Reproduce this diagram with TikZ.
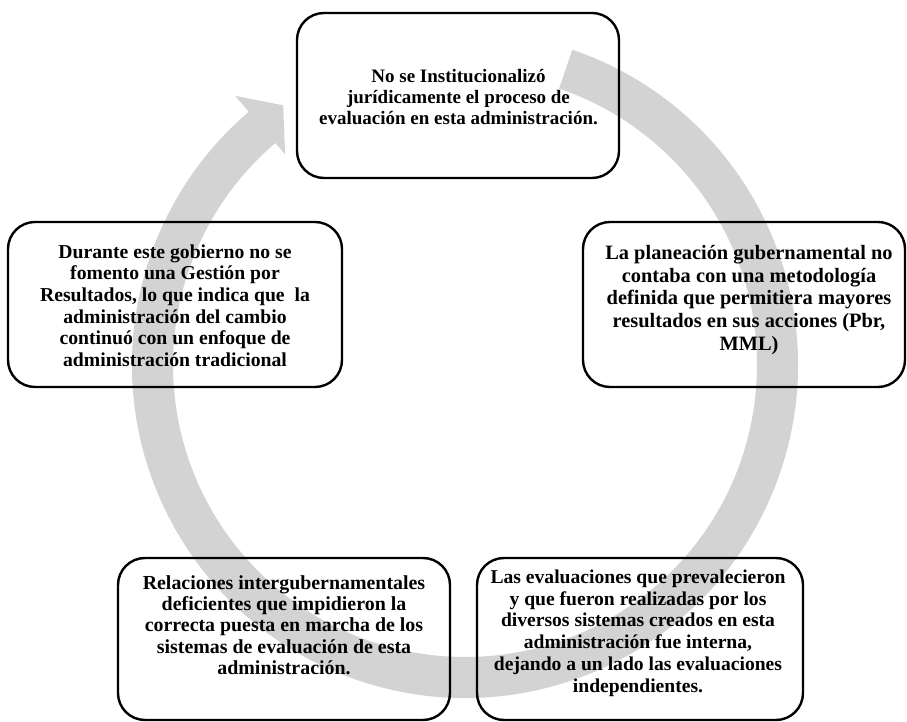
\documentclass[tikz,border=0pt]{standalone}
\usepackage{fontspec}
\setmainfont{Liberation Serif}
\definecolor{ringgray}{RGB}{211,211,211}
\tikzset{
  box/.style={draw=black, line width=2.4pt, rounded corners=27pt, inner sep=0pt, outer sep=0pt},
  txt/.style={align=center, inner sep=0pt, font=\fontsize{19}{21.3}\selectfont\bfseries},
}
\begin{document}
\begin{tikzpicture}[x=1pt,y=1pt]
\useasboundingbox (0,0) rectangle (907,722);
% circular arrow
\fill[ringgray, shift={(465,357)}]
  (71.2:333) arc[start angle=71.2, end angle=-229.5, radius=333]
  -- (130.5:354) -- (125:317) -- (130.5:277) -- (130.5:292)
  arc[start angle=-229.5, end angle=71.2, radius=292] -- cycle;
% boxes
\node[box, minimum width=322pt, minimum height=165pt] (b1) at (458,626.5) {};
\node[box, minimum width=334pt, minimum height=165pt] (b2) at (175,417.5) {};
\node[box, minimum width=322pt, minimum height=165pt] (b3) at (744,417.5) {};
\node[box, minimum width=332pt, minimum height=162pt] (b4) at (284,83) {};
\node[box, minimum width=326pt, minimum height=162pt] (b5) at (640,83) {};
% texts
\node[txt] (t1) at (458.5,625) {No se Institucionalizó\\jurídicamente el proceso de\\evaluación en esta administración.};
\node[txt, font=\fontsize{19.7}{21.6}\selectfont\bfseries] (t2) at (175,416.5) {Durante este gobierno no se\\fomento una Gestión por\\Resultados, lo que indica que\ \ la\\administración del cambio\\continuó con un enfoque de\\administración tradicional};
\node[txt, font=\fontsize{20.4}{22.6}\selectfont\bfseries] (t3) at (749,422) {La planeación gubernamental no\\contaba con una metodología\\definida que permitiera mayores\\resultados en sus acciones (Pbr,\\MML)};
\node[txt, font=\fontsize{19.9}{21.3}\selectfont\bfseries] (t4) at (284,97) {Relaciones intergubernamentales\\deficientes que impidieron la\\correcta puesta en marcha de los\\sistemas de evaluación de esta\\administración.};
\node[txt, font=\fontsize{19.6}{21.8}\selectfont\bfseries] (t5) at (638,89) {Las evaluaciones que prevalecieron\\y que fueron realizadas por los\\diversos sistemas creados en esta\\administración fue interna,\\dejando a un lado las evaluaciones\\independientes.};
\end{tikzpicture}
\end{document}
